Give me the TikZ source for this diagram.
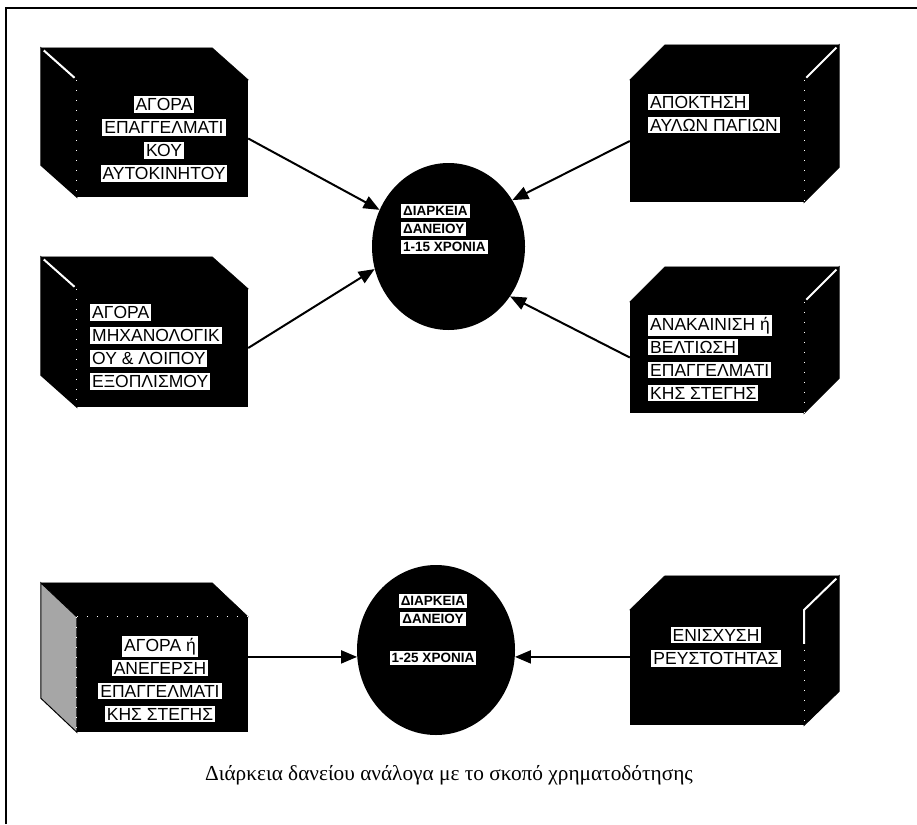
\documentclass[tikz,border=0pt]{standalone}
\usepackage{fontspec}
\setmainfont{Liberation Serif}
\newfontfamily\boxfont{Liberation Sans}
\usetikzlibrary{arrows.meta,calc,shapes.geometric}
\setlength{\fboxsep}{2pt}
\newcommand{\wb}[1]{\colorbox{white}{#1}}
\tikzset{
  crate/.style 2 args={fill=black, inner sep=0pt, minimum width=#1, minimum height=#2},
  dur/.style 2 args={ellipse, fill=black, inner sep=0pt, minimum width=#1, minimum height=#2},
  lbl/.style={font=\boxfont\fontsize{17.5}{23}\selectfont, inner sep=0pt},
  durlbl/.style={font=\boxfont\bfseries\fontsize{13.5}{18}\selectfont, inner sep=0pt},
  feed/.style={line width=2pt, -{Triangle[length=16pt,width=13pt]}},
  glint/.style={white, line width=2pt, shorten <=4pt, shorten >=3pt},
  seam/.style={white, line width=0.8pt, dash pattern=on 1pt off 9pt},
}
\begin{document}
\begin{tikzpicture}[x=1pt,y=-1pt]
  \useasboundingbox (0,0) rectangle (917,824);
  \draw[line width=2.5pt] (6,824) -- (6,8) -- (917,8);

  % front faces of the crates
  \node[crate={171pt}{117pt}] (car) at (162.5,138.5) {};
  \node[crate={171pt}{118pt}] (mach) at (162.5,348) {};
  \node[crate={171pt}{115pt}] (buy) at (162.5,674.5) {};
  \node[crate={174pt}{122pt}] (land) at (717,141) {};
  \node[crate={174pt}{111pt}] (reno) at (717,357.5) {};
  \node[crate={174pt}{115pt}] (liq) at (717,667.5) {};

  % top and side faces
  \foreach \n/\s/\dx/\dy/\c in {car/west/-36/-32/black, mach/west/-36/-32/black,
      buy/west/-36/-34/black!35, land/east/35/-35/black, reno/east/35/-35/black,
      liq/east/35/-34/black}{
    \filldraw[black, line width=0.5pt] (\n.north west) -- ++(\dx,\dy)
      -- ($(\n.north east)+(\dx,\dy)$) -- (\n.north east) -- cycle;
    \filldraw[fill=\c, draw=black, line width=1pt] (\n.north \s) -- ++(\dx,\dy)
      -- ($(\n.south \s)+(\dx,\dy)$) -- (\n.south \s) -- cycle;
    \draw[seam] (\n.north \s) -- (\n.south \s);
  }
  \draw[glint] ($(car.north west)+(-36,-32)$) -- (car.north west);
  \draw[glint] ($(mach.north west)+(-36,-32)$) -- (mach.north west);
  \draw[glint] ($(land.north east)+(35,-35)$) -- (land.north east);
  \draw[glint] ($(reno.north east)+(35,-35)$) -- (reno.north east);
  \draw[glint] ($(liq.north east)+(35,-34)$) -- (liq.north east) -- ++(0,37);
  \draw[seam] (buy.north west) -- (buy.north east);

  % loan duration
  \node[dur={153pt}{167pt}] (dur1) at (448.5,246.5) {};
  \node[dur={158pt}{170pt}] (dur2) at (436,650) {};

  % labels
  \node[lbl, align=center] (carlbl) at (164,139)
    {\wb{ΑΓΟΡΑ}\\\wb{ΕΠΑΓΓΕΛΜΑΤΙ}\\\wb{ΚΟΥ}\\\wb{ΑΥΤΟΚΙΝΗΤΟΥ}};
  \node[lbl, align=left, anchor=west] (machlbl) at (90,347)
    {\wb{ΑΓΟΡΑ}\\\wb{ΜΗΧΑΝΟΛΟΓΙΚ}\\\wb{ΟΥ \& ΛΟΙΠΟΥ}\\\wb{ΕΞΟΠΛΙΣΜΟΥ}};
  \node[lbl, align=center] (buylbl) at (160,679)
    {\wb{ΑΓΟΡΑ ή}\\\wb{ΑΝΕΓΕΡΣΗ}\\\wb{ΕΠΑΓΓΕΛΜΑΤΙ}\\\wb{ΚΗΣ ΣΤΕΓΗΣ}};
  \node[lbl, align=left, anchor=west] (landlbl) at (648,113.5)
    {\wb{ΑΠΟΚΤΗΣΗ}\\\wb{ΑΥΛΩΝ ΠΑΓΙΩΝ}};
  \node[lbl, align=left, anchor=west] (renolbl) at (648,358)
    {\wb{ΑΝΑΚΑΙΝΙΣΗ ή}\\\wb{ΒΕΛΤΙΩΣΗ}\\\wb{ΕΠΑΓΓΕΛΜΑΤΙ}\\\wb{ΚΗΣ ΣΤΕΓΗΣ}};
  \node[lbl, align=center] (liqlbl) at (716,647)
    {\wb{ΕΝΙΣΧΥΣΗ}\\\wb{ΡΕΥΣΤΟΤΗΤΑΣ}};
  \node[durlbl, align=left, anchor=west] (dur1lbl) at (401,229)
    {\wb{ΔΙΑΡΚΕΙΑ}\\\wb{ΔΑΝΕΙΟΥ}\\\wb{1-15 ΧΡΟΝΙΑ}};
  \node[durlbl, align=center] (dur2lbl) at (433,610) {\wb{ΔΙΑΡΚΕΙΑ}\\\wb{ΔΑΝΕΙΟΥ}};
  \node[durlbl] (dur2yrs) at (433,658) {\wb{1-25 ΧΡΟΝΙΑ}};
  \node[font=\fontsize{21.3}{25}\selectfont] (caption) at (449,775)
    {Διάρκεια δανείου ανάλογα με το σκοπό χρηματοδότησης};

  % arrows
  \draw[feed] (car.east) -- (dur1.152);
  \draw[feed] (mach.east) -- (dur1.197);
  \draw[feed] (land.west) -- (dur1.36);
  \draw[feed] (reno.west) -- (dur1.-39);
  \draw[feed] (buy.east |- dur2.185) -- (dur2.185);
  \draw[feed] (liq.west |- dur2.-5) -- (dur2.-5);
\end{tikzpicture}
\end{document}
